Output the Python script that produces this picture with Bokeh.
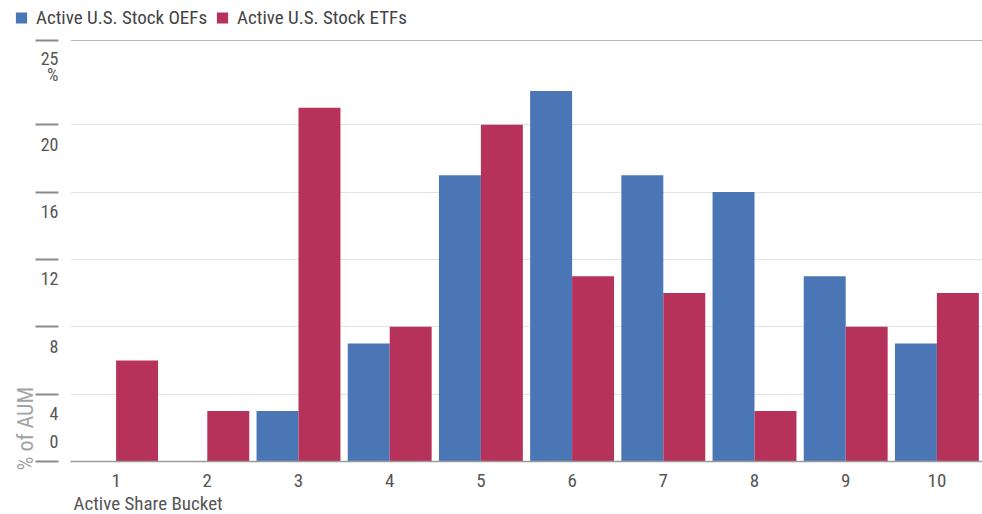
from bokeh.plotting import figure
from bokeh.layouts import column
from bokeh.models import (ColumnDataSource, FixedTicker, Span, Title, Range1d,
                          LinearAxis, Legend, LegendItem)
from bokeh.embed import file_html
from bokeh.resources import INLINE

# ---- data ----
buckets = [1, 2, 3, 4, 5, 6, 7, 8, 9, 10]
oef_share = [0, 0, 3, 7, 17, 22, 17, 16, 11, 7]
etf_share = [6, 3, 21, 8, 20, 11, 10, 3, 8, 10]
series_names = ["Active U.S. Stock OEFs", "Active U.S. Stock ETFs"]
y_ticks = [0, 4, 8, 12, 16, 20, 25]
y_tick_labels = ["0", "4", "8", "12", "16", "20", "25"]
y_unit = "%"
x_title = "Active Share Bucket"
y_title = "% of AUM"

# ---- style ----
FONT = "Roboto Condensed, DejaVu Sans Condensed, Roboto, sans-serif"
BLUE = "#4a76b6"
RED = "#b6325b"
W = 982
LEG_H = 34
H = 514 - LEG_H
TOP, BOTTOM = 6, 51
BW = 0.46

src = ColumnDataSource(dict(
    x_oef=[b - BW / 2 for b in buckets],
    x_etf=[b + BW / 2 for b in buckets],
    oef=oef_share, etf=etf_share))

# ---- legend strip (its window shows no bars; only the legend is seen) ----
lf = figure(width=W, height=LEG_H, output_backend="svg", toolbar_location=None,
            x_range=(-2, -1), y_range=(0, 1), min_border=0,
            x_axis_type=None, y_axis_type=None)
lf.grid.visible = False
lf.outline_line_color = None
lr1 = lf.vbar(x="x_oef", top="oef", width=BW, source=src, fill_color=BLUE, line_color=None)
lr2 = lf.vbar(x="x_etf", top="etf", width=BW, source=src, fill_color=RED, line_color=None)
legend = Legend(items=[LegendItem(label=series_names[0], renderers=[lr1]),
                       LegendItem(label=series_names[1], renderers=[lr2])],
                orientation="horizontal", location="center_left")
legend.label_text_font = FONT
legend.label_text_font_size = "19px"
legend.label_text_color = "#444444"
legend.glyph_width = 14
legend.glyph_height = 14
legend.label_standoff = 8
legend.spacing = 8
legend.padding = 0
legend.margin = 14
legend.border_line_color = None
legend.background_fill_alpha = 0
lf.add_layout(legend)

# ---- main chart ----
p = figure(width=W, height=H, output_backend="svg", toolbar_location=None,
           x_range=(0.5, 10.5), y_range=(y_ticks[0], y_ticks[-1]),
           min_border_left=70, min_border_right=0, min_border_top=TOP,
           min_border_bottom=BOTTOM)
p.outline_line_color = None
p.background_fill_color = "white"
p.border_fill_color = "white"

if "frame_align" in p.properties():
    lf.frame_align = False
    p.frame_align = False

p.vbar(x="x_oef", top="oef", width=BW, source=src, fill_color=BLUE, line_color=None)
p.vbar(x="x_etf", top="etf", width=BW, source=src, fill_color=RED, line_color=None)

# x axis
xa = p.xaxis[0]
xa.ticker = FixedTicker(ticks=buckets)
xa.axis_line_color = "#9a9a9a"
xa.axis_line_width = 1.5
xa.major_tick_line_color = None
xa.minor_tick_line_color = None
xa.major_label_text_font = FONT
xa.major_label_text_font_size = "19px"
xa.major_label_text_color = "#555555"
xa.major_label_standoff = 6

# y axis: tick marks out to the left, labels set one line below each mark
ya = p.yaxis[0]
ya.ticker = FixedTicker(ticks=y_ticks)
overrides = {}
for t, lab in zip(y_ticks, y_tick_labels):
    if t == y_ticks[0]:
        overrides[t] = lab + "\n\n"
    elif t == y_ticks[-1]:
        overrides[t] = ""          # drawn by the unit axis below
    else:
        overrides[t] = "\n\n" + lab
ya.major_label_overrides = overrides
ya.axis_line_color = None
ya.major_tick_in = -12
ya.major_tick_out = 35
ya.major_tick_line_color = "#8a8a8a"
ya.major_tick_line_width = 2
ya.minor_tick_line_color = None
ya.major_label_standoff = -23
ya.major_label_text_font = FONT
ya.major_label_text_font_size = "18px"
ya.major_label_text_color = "#555555"
ya.major_label_text_line_height = 0.93

# top label "25 / %" on a companion axis whose range is shifted down a little
frame_px = H - TOP - BOTTOM
shift = 26 * (y_ticks[-1] - y_ticks[0]) / frame_px
p.extra_y_ranges = {"unit": Range1d(start=y_ticks[0] + shift, end=y_ticks[-1] + shift)}
ub = LinearAxis(y_range_name="unit", ticker=FixedTicker(ticks=[y_ticks[-1]]),
                major_label_overrides={y_ticks[-1]: y_tick_labels[-1] + "\n" + y_unit})
ub.axis_line_color = None
ub.major_tick_line_color = None
ub.minor_tick_line_color = None
ub.major_tick_in = 0
ub.major_tick_out = 0
ub.major_label_standoff = -21
ub.major_label_text_font = FONT
ub.major_label_text_font_size = "18px"
ub.major_label_text_color = "#555555"
ub.major_label_text_line_height = 0.75
p.add_layout(ub, "left")

p.xgrid.visible = False
p.ygrid.ticker = FixedTicker(ticks=[t for t in y_ticks if y_ticks[0] < t < y_ticks[-1]])
p.ygrid.grid_line_color = "#e3e3e3"
p.ygrid.grid_line_width = 1

p.add_layout(Span(location=y_ticks[-1], dimension="width", line_color="#777777", line_width=1))

p.add_layout(Title(text=x_title, align="left", text_font=FONT, text_font_size="19px",
                   text_font_style="normal", text_color="#555555", offset=3,
                   standoff=0), "below")
p.add_layout(Title(text=y_title, align="left", text_font=FONT, text_font_size="22px",
                   text_font_style="normal", text_color="#a3a3a3", offset=-9,
                   standoff=0), "left")

layout = column(lf, p, spacing=0)
open("out.html", "w").write(file_html(layout, INLINE))
